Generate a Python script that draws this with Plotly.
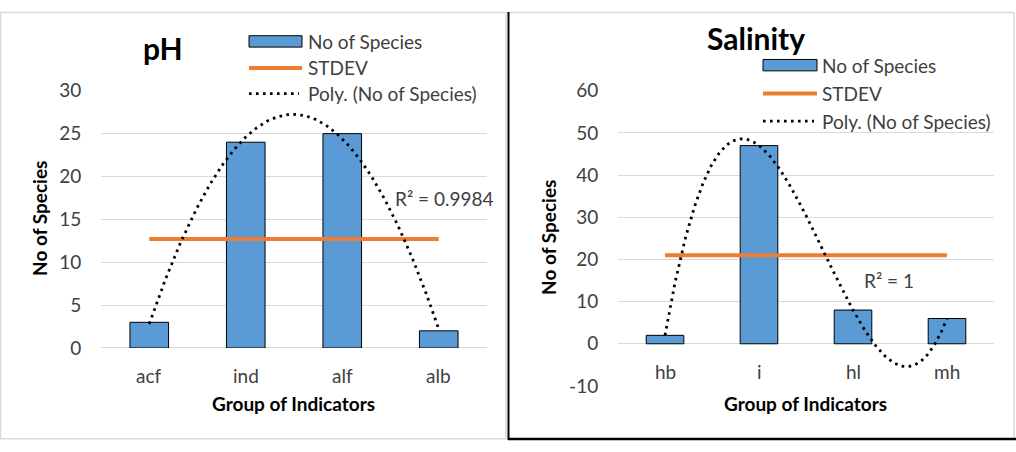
import numpy as np
import plotly.graph_objects as go

# ---------------- data ----------------
ph_groups = ["acf", "ind", "alf", "alb"]
ph_species = [3, 24, 25, 2]
ph_poly_order = 2
ph_r2_label = "R² = 0.9984"
ph_yticks = [0, 5, 10, 15, 20, 25, 30]

sal_groups = ["hb", "i", "hl", "mh"]
sal_species = [2, 47, 8, 6]
sal_poly_order = 3
sal_r2_label = "R² = 1"
sal_yticks = [-10, 0, 10, 20, 30, 40, 50, 60]

legend_labels = ["No of Species", "STDEV", "Poly. (No of Species)"]

W, H = 1016, 452
FONT = "Lato"
FS = 19
BLUE = "#5B9BD5"
ORANGE = "#ED7D31"
GRID = "#D9D9D9"
TXT = "#404040"
DOTS = "2.6px,4.4px"


def px(x):
    return x / W


def py(y):
    return 1 - y / H


fig = go.Figure()


def add_panel(groups, values, order, xa, ya):
    idx = np.arange(len(groups))
    vals = np.array(values, dtype=float)
    sd = float(np.std(vals, ddof=1))
    coef = np.polyfit(idx, vals, order)
    xt = np.linspace(idx[0], idx[-1], 300)
    yt = np.polyval(coef, xt)
    fig.add_trace(go.Bar(x=idx, y=vals, width=0.4, name=legend_labels[0],
                         marker=dict(color=BLUE, line=dict(color="black", width=1)),
                         xaxis=xa, yaxis=ya))
    fig.add_trace(go.Scatter(x=[idx[0], idx[-1]], y=[sd, sd], mode="lines", name=legend_labels[1],
                             line=dict(color=ORANGE, width=4),
                             xaxis=xa, yaxis=ya))
    fig.add_trace(go.Scatter(x=xt, y=yt, mode="lines", name=legend_labels[2],
                             line=dict(color="black", width=2.8, dash=DOTS),
                             xaxis=xa, yaxis=ya))
    for i, g in enumerate(groups):
        fig.add_annotation(x=i, y=0, xref=xa, yref=ya, text=g, showarrow=False,
                           yanchor="middle", yshift=-28,
                           font=dict(family=FONT, size=FS, color=TXT))


add_panel(ph_groups, ph_species, ph_poly_order, "x", "y")
add_panel(sal_groups, sal_species, sal_poly_order, "x2", "y2")

axis_common = dict(showticklabels=False, showgrid=False, zeroline=False,
                   showline=False, ticks="", fixedrange=True)
yaxis_common = dict(showgrid=True, gridcolor=GRID, gridwidth=1, zeroline=True,
                    zerolinecolor=GRID, zerolinewidth=1, showline=False,
                    ticks="outside", ticklen=15, tickcolor="rgba(0,0,0,0)",
                    tickfont=dict(family=FONT, size=FS, color=TXT))

fig.update_layout(
    width=W, height=H,
    margin=dict(l=0, r=0, t=0, b=0),
    paper_bgcolor="white", plot_bgcolor="white",
    showlegend=False,
    xaxis=dict(domain=[px(101), px(487)], range=[-0.5, len(ph_groups) - 0.5], anchor="y", **axis_common),
    yaxis=dict(domain=[py(354), py(83)], range=[ph_yticks[0], ph_yticks[-1]], tickvals=ph_yticks,
               ticktext=[str(v) for v in ph_yticks], anchor="x", **yaxis_common),
    xaxis2=dict(domain=[px(618), px(994)], range=[-0.5, len(sal_groups) - 0.5], anchor="y2", **axis_common),
    yaxis2=dict(domain=[py(394), py(83)], range=[sal_yticks[0], sal_yticks[-1]], tickvals=sal_yticks,
                ticktext=[str(v) for v in sal_yticks], anchor="x2", **yaxis_common),
)

# panel frames
shapes = [
    dict(type="rect", xref="paper", yref="paper", x0=px(0.5), x1=px(506), y0=py(0.5), y1=py(449.5),
         line=dict(color=GRID, width=1.5)),
    dict(type="line", xref="paper", yref="paper", x0=px(508), x1=px(1014), y0=py(0.5), y1=py(0.5),
         line=dict(color=GRID, width=1.5)),
    dict(type="line", xref="paper", yref="paper", x0=px(1014), x1=px(1014), y0=py(0.5), y1=py(449),
         line=dict(color=GRID, width=1.5)),
    dict(type="line", xref="paper", yref="paper", x0=px(508.5), x1=px(508.5), y0=py(0), y1=py(451),
         line=dict(color="black", width=2)),
    dict(type="line", xref="paper", yref="paper", x0=px(508), x1=px(1016), y0=py(450), y1=py(450),
         line=dict(color="black", width=2.5)),
]


# custom legends (wide swatches as in the original)
def add_legend(x0, x1, rows, text_x):
    r0, r1, r2 = rows
    shapes.append(dict(type="rect", xref="paper", yref="paper", x0=px(x0), x1=px(x1),
                       y0=py(r0 + 6), y1=py(r0 - 6), fillcolor=BLUE,
                       line=dict(color="black", width=1)))
    shapes.append(dict(type="line", xref="paper", yref="paper", x0=px(x0), x1=px(x1),
                       y0=py(r1), y1=py(r1), line=dict(color=ORANGE, width=4)))
    shapes.append(dict(type="line", xref="paper", yref="paper", x0=px(x0), x1=px(x1 - 3),
                       y0=py(r2), y1=py(r2), line=dict(color="black", width=2.8, dash=DOTS)))
    for lab, r in zip(legend_labels, rows):
        fig.add_annotation(x=px(text_x), y=py(r), xref="paper", yref="paper", text=lab,
                           showarrow=False, xanchor="left", yanchor="middle",
                           font=dict(family=FONT, size=FS, color=TXT))


add_legend(249, 302, (31, 59, 86), 306)
add_legend(763, 817, (56, 86, 115), 820)
fig.update_layout(shapes=shapes)


def pann(text, x, y, size, angle=0):
    fig.add_annotation(x=px(x), y=py(y), xref="paper", yref="paper", text=f"<b>{text}</b>",
                       showarrow=False, xanchor="center", yanchor="middle", textangle=angle,
                       font=dict(family=FONT, size=size, color="black"))


pann("pH", 163, 38, 30)
pann("Salinity", 756, 27, 30)
pann("No of Species", 40, 218, 19, angle=-90)
pann("No of Species", 549, 238, 19, angle=-90)
pann("Group of Indicators", 293, 413, 19)
pann("Group of Indicators", 805, 412, 19)

# R² labels
fig.add_annotation(x=2.53, y=17.4, xref="x", yref="y", text=ph_r2_label, showarrow=False,
                   xanchor="left", yanchor="middle", font=dict(family=FONT, size=FS, color=TXT))
fig.add_annotation(x=2.1, y=15.1, xref="x2", yref="y2", text=sal_r2_label, showarrow=False,
                   xanchor="left", yanchor="middle", font=dict(family=FONT, size=FS, color=TXT))

fig.write_html("out.html")
